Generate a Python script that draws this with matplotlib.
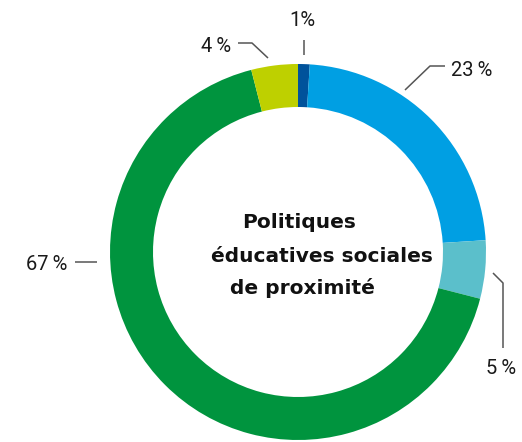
import matplotlib
matplotlib.use("Agg")
import matplotlib.pyplot as plt

# Data (clockwise from 12 o'clock)
shares = [1, 23, 5, 67, 4]
labels = ["1%", "23\u2009%", "5\u2009%", "67\u2009%", "4\u2009%"]
colors = ["#00529b", "#009fe3", "#5bbfcb", "#00943e", "#bed000"]
title_lines = ["Politiques", "éducatives sociales", "de proximité"]

W, H = 522, 442
fig = plt.figure(figsize=(W / 100, H / 100), dpi=100)
ax = fig.add_axes([0, 0, 1, 1])

# pixel coords -> data coords (y up)
def py(y):
    return H - y

cx, cy, R, ring = 298, 252, 188, 43
ax.pie(shares, colors=colors, radius=R, center=(cx, py(cy)), startangle=90,
       counterclock=False, wedgeprops=dict(width=ring, linewidth=0))

ax.set_xlim(0, W)
ax.set_ylim(0, H)
ax.set_aspect("equal")
ax.axis("off")

# leader lines (pixel coords)
leaders = [
    [(304, 40), (304, 55)],
    [(445, 66), (430, 66), (405, 90)],
    [(493, 273), (503, 283), (503, 348)],
    [(75, 262), (97, 262)],
    [(238, 43), (252, 43), (268, 58)],
]
label_pos = [(302, 20, "center"), (451, 70, "left"), (486, 368, "left"),
             (67, 264, "right"), (231, 46, "right")]

for pts, (lx, ly, ha), lab in zip(leaders, label_pos, labels):
    xs = [p[0] for p in pts]
    ys = [py(p[1]) for p in pts]
    ax.plot(xs, ys, color="#555555", lw=1.1, solid_capstyle="butt")
    ax.text(lx, py(ly), lab, ha=ha, va="center", fontsize=14.5,
            family=["Roboto", "DejaVu Sans"], color="#1a1a1a")

# centre title
title_x = [299, 322, 302]
title_y = [223, 257, 288]
for t, tx, ty in zip(title_lines, title_x, title_y):
    ax.text(tx, py(ty), t, ha="center", va="center", fontsize=14.5,
            fontweight="bold", family="DejaVu Sans", color="#111111")

fig.savefig("out.png", dpi=100)
